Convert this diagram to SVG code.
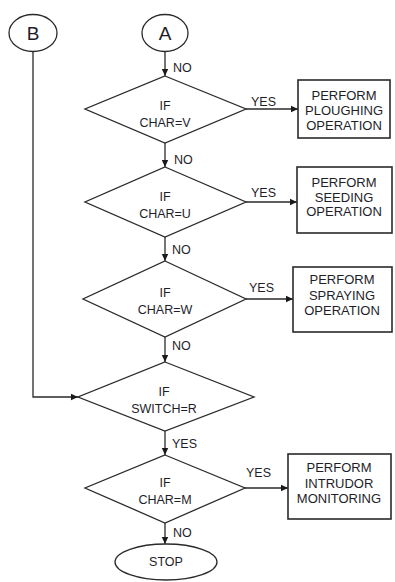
<svg xmlns="http://www.w3.org/2000/svg" width="395" height="582" viewBox="0 0 395 582">
<defs>
<style>
.s{fill:#fff;stroke:#2a2a2a;stroke-width:1.3}
.b{fill:#fff;stroke:#2a2a2a;stroke-width:1.6}
.c{fill:none;stroke:#2a2a2a;stroke-width:1.3}
text{font-family:"Liberation Sans",Arial,sans-serif;font-size:12.5px;fill:#1e1e2a;dominant-baseline:central}
.m{text-anchor:middle}
.l{font-size:13px}
.big{font-size:19px}
</style>
<marker id="ah" markerWidth="8" markerHeight="8" refX="7" refY="4" orient="auto" markerUnits="userSpaceOnUse">
<path d="M0,0.8 L7,4 L0,7.2 Z" fill="#1a1a1a"/>
</marker>
</defs>
<rect width="395" height="582" fill="#fff"/>
<g id="connectors">
<path class="c" d="M165,51 V76" marker-end="url(#ah)"/>
<path class="c" d="M165,143 V167" marker-end="url(#ah)"/>
<path class="c" d="M165,237 V261" marker-end="url(#ah)"/>
<path class="c" d="M165,337 V362" marker-end="url(#ah)"/>
<path class="c" d="M165,431 V455" marker-end="url(#ah)"/>
<path class="c" d="M165,523 V544" marker-end="url(#ah)"/>
<path class="c" d="M33,51 V397 H78" marker-end="url(#ah)"/>
<path class="c" d="M246,109 H298" marker-end="url(#ah)"/>
<path class="c" d="M246,202 H297" marker-end="url(#ah)"/>
<path class="c" d="M246,299 H293" marker-end="url(#ah)"/>
<path class="c" d="M245,488 H288" marker-end="url(#ah)"/>
<text x="173" y="68">NO</text>
<text x="174" y="160">NO</text>
<text x="172" y="250">NO</text>
<text x="172" y="346">NO</text>
<text x="172" y="444">YES</text>
<text x="173" y="533">NO</text>
<text x="251" y="102">YES</text>
<text x="251" y="193">YES</text>
<text x="249" y="288">YES</text>
<text x="246" y="473">YES</text>
</g>
<g id="nodeB">
<ellipse class="s" cx="33" cy="33" rx="24" ry="18.5"/>
<text class="m big" x="33" y="33">B</text>
</g>
<g id="nodeA">
<ellipse class="s" cx="165" cy="33" rx="23" ry="18.5"/>
<text class="m big" x="165" y="33">A</text>
</g>
<g id="d1">
<path class="s" d="M165,76 L246,109 L165,143 L85,109 Z"/>
<text class="m" x="165" y="106">IF</text>
<text class="m" x="165" y="123">CHAR=V</text>
</g>
<g id="box1">
<rect class="b" x="298" y="80" width="92" height="58"/>
<text class="m l" x="344" y="95">PERFORM</text>
<text class="m l" x="344" y="110">PLOUGHING</text>
<text class="m l" x="344" y="125">OPERATION</text>
</g>
<g id="d2">
<path class="s" d="M165,167 L246,202 L165,237 L85,202 Z"/>
<text class="m" x="165" y="197">IF</text>
<text class="m" x="165" y="214">CHAR=U</text>
</g>
<g id="box2">
<rect class="b" x="297" y="167" width="95" height="66"/>
<text class="m l" x="344" y="182">PERFORM</text>
<text class="m l" x="344" y="197">SEEDING</text>
<text class="m l" x="344" y="211">OPERATION</text>
</g>
<g id="d3">
<path class="s" d="M165,261 L246,299 L165,337 L83,299 Z"/>
<text class="m" x="165" y="293">IF</text>
<text class="m" x="165" y="310">CHAR=W</text>
</g>
<g id="box3">
<rect class="b" x="293" y="267" width="99" height="65"/>
<text class="m l" x="342" y="279">PERFORM</text>
<text class="m l" x="342" y="295">SPRAYING</text>
<text class="m l" x="342" y="310">OPERATION</text>
</g>
<g id="d4">
<path class="s" d="M165,362 L254,397 L165,431 L78,397 Z"/>
<text class="m" x="164" y="392">IF</text>
<text class="m" x="164" y="409">SWITCH=R</text>
</g>
<g id="d5">
<path class="s" d="M165,455 L245,488 L165,523 L85,488 Z"/>
<text class="m" x="165" y="483">IF</text>
<text class="m" x="165" y="500">CHAR=M</text>
</g>
<g id="box5">
<rect class="b" x="288" y="454" width="103" height="65"/>
<text class="m l" x="339" y="467">PERFORM</text>
<text class="m l" x="339" y="483">INTRUDOR</text>
<text class="m l" x="339" y="498">MONITORING</text>
</g>
<g id="stop">
<ellipse class="s" cx="166" cy="562" rx="51" ry="18"/>
<text class="m" x="166" y="562">STOP</text>
</g>
</svg>
